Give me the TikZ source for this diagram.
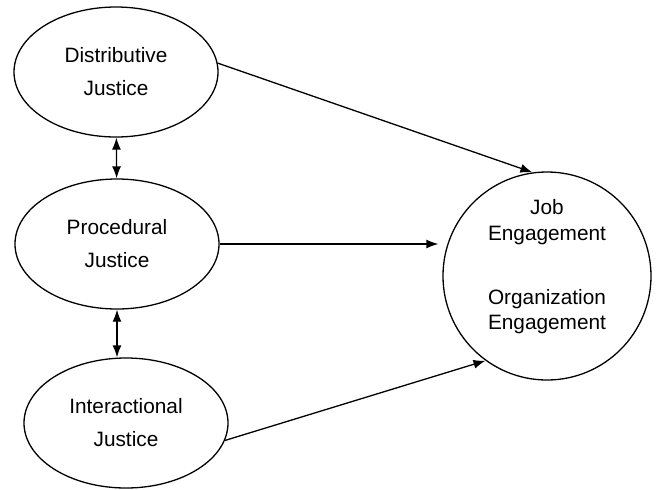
\documentclass[tikz,border=0pt]{standalone}
\usepackage{fontspec}
\setmainfont{Liberation Sans}
\usetikzlibrary{shapes.geometric,arrows.meta}
\begin{document}
\begin{tikzpicture}[x=0.5pt,y=-0.5pt,
    justice/.style={draw,ellipse,line width=0.65pt,minimum width=102pt,minimum height=65pt,
      inner sep=0pt,align=center,font=\fontsize{10.4}{16.5}\selectfont},
    outcome/.style={draw,circle,line width=0.65pt,minimum size=104pt,inner sep=0pt},
    outcometext/.style={align=center,inner sep=0pt,font=\fontsize{10.4}{12.8}\selectfont},
    link/.style={line width=0.65pt,-{Latex[length=6pt,width=4.5pt]}},
    twoway/.style={line width=0.65pt,{Latex[length=6pt,width=4.5pt]}-{Latex[length=6pt,width=4.5pt]}}]
    \useasboundingbox (0,0) rectangle (660,489);
    \node[justice] (dist) at (116,72) {Distributive\\Justice};
    \node[justice] (proc) at (117,244) {Procedural\\Justice};
    \node[justice] (inter) at (126,423) {Interactional\\Justice};
    \node[outcome] (eng) at (547,276) {};
    \node[outcometext] (engtext) at (547,267) {Job\\Engagement\\[19pt]Organization\\Engagement};
    \draw[twoway] (dist) -- (proc);
    \draw[twoway] (proc.south) -- (proc.south |- inter.north);
    \draw[link] (dist.5) -- (eng.98);
    \draw[link, shorten >=2pt] (proc.east) -- (proc.east -| eng.west);
    \draw[link] (inter.-10) -- (eng.234);
  \end{tikzpicture}
\end{document}
